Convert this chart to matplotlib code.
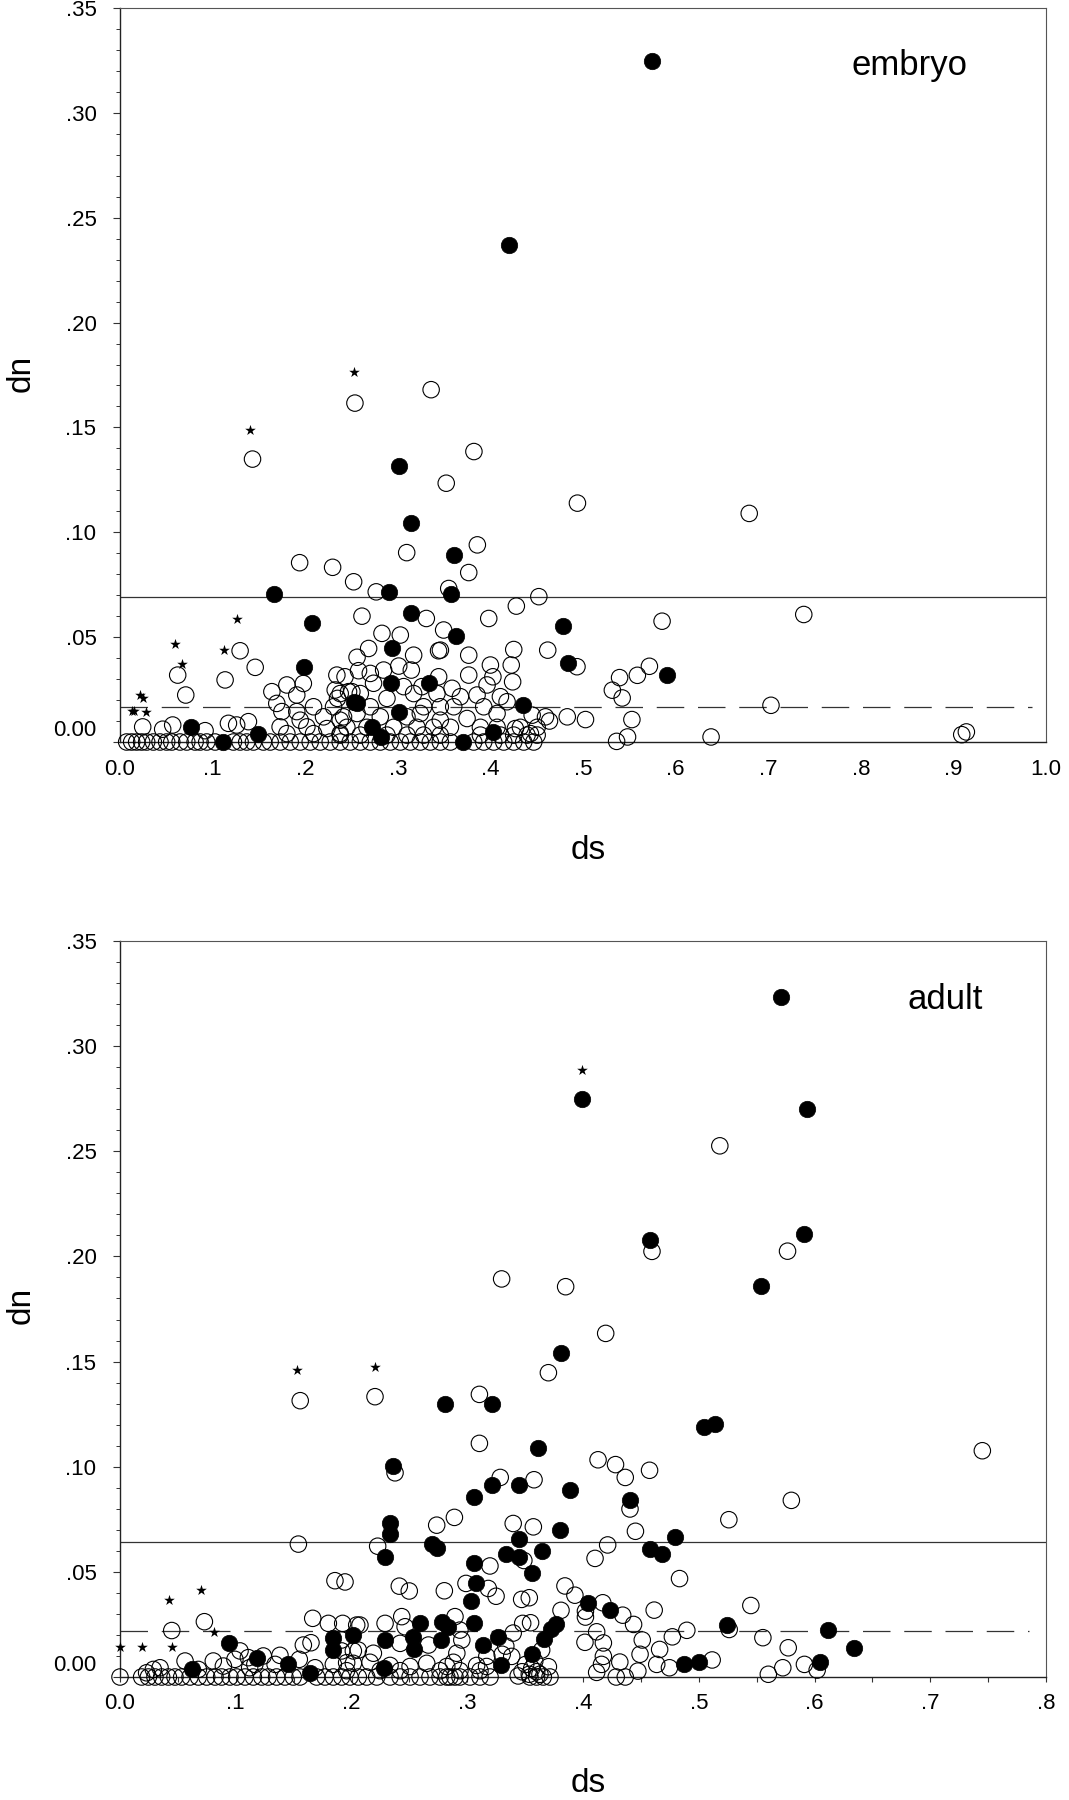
import matplotlib
matplotlib.use('Agg')
import matplotlib.pyplot as plt
from matplotlib.ticker import MultipleLocator, FixedLocator

plt.rcParams['font.family'] = ['Liberation Sans', 'DejaVu Sans']

# ---- embryo panel ----
emb_open_ds = [
    0.2537, 0.3360, 0.1431, 0.3822, 0.3523, 0.3096, 0.3859, 0.494, 0.6795, 0.5854, 0.7384,
    0.194, 0.2296, 0.2523, 0.1297, 0.146, 0.1135, 0.0623, 0.0710, 0.0245, 0.0461, 0.0569,
    0.0919, 0.1171, 0.126, 0.1387, 0.164, 0.1802, 0.1909, 0.198, 0.2342, 0.2324, 0.2468,
    0.1693, 0.1748, 0.1909, 0.209, 0.2198, 0.2306, 0.2414, 0.1946, 0.1729, 0.2018, 0.2234,
    0.1802, 0.209, 0.2378, 0.2349,
    0.2767, 0.355, 0.3766, 0.4523, 0.428, 0.2613, 0.3308, 0.3982, 0.3495, 0.3027, 0.2829,
    0.2685, 0.256, 0.344, 0.346, 0.3171, 0.3766, 0.4252, 0.4619, 0.2847, 0.3146, 0.301,
    0.2576, 0.2703, 0.3766, 0.40, 0.4225, 0.4027, 0.424, 0.3441, 0.243, 0.4935, 0.2738,
    0.3063, 0.3586, 0.3261, 0.3964, 0.3856, 0.4108, 0.3676, 0.418, 0.2883, 0.2504, 0.4451,
    0.4595, 0.483, 0.5027, 0.3748, 0.3459, 0.3243, 0.4072, 0.427, 0.4432, 0.256, 0.2811,
    0.3099, 0.2378,
    0.5717, 0.5587, 0.5395, 0.5317, 0.5423, 0.4638, 0.5528, 0.703, 0.6383, 0.5363, 0.5481,
    0.909, 0.914,
    0.245, 0.2667, 0.2955, 0.3207, 0.3387, 0.3568, 0.3892, 0.4072, 0.4324, 0.4505,
    0.2378, 0.2595, 0.2883, 0.3099, 0.3279, 0.3459, 0.3892, 0.4108, 0.4252, 0.4396, 0.4505,
    0.2703, 0.3279, 0.3459, 0.3604, 0.3928, 0.2378, 0.2595, 0.3171, 0.3423,
    0.0072, 0.0126, 0.018, 0.0234, 0.0288, 0.036, 0.0432, 0.0504, 0.0559, 0.0649, 0.0721,
    0.0811, 0.0865, 0.0937, 0.1027, 0.1225, 0.1297, 0.1369, 0.1441, 0.1549, 0.1622, 0.173,
    0.1838, 0.1946, 0.2054, 0.2162, 0.227, 0.2378, 0.2486, 0.2595, 0.2703, 0.2811, 0.2919,
    0.3027, 0.3135, 0.3243, 0.3351, 0.3459, 0.3568, 0.3820, 0.3928, 0.4036, 0.4144, 0.4252,
    0.4360, 0.4468,
]
emb_open_dn = [
    0.1616, 0.1680, 0.1349, 0.1385, 0.1234, 0.0903, 0.0940, 0.1139, 0.109, 0.0576, 0.0608,
    0.0855, 0.0833, 0.0764, 0.0435, 0.0356, 0.0296, 0.0319, 0.0224, 0.0072, 0.0061, 0.0081,
    0.0054, 0.0089, 0.0081, 0.0097, 0.024, 0.0272, 0.0224, 0.0279, 0.0319, 0.0248, 0.024,
    0.0184, 0.0145, 0.0145, 0.0168, 0.012, 0.0168, 0.012, 0.0104, 0.0072, 0.0072, 0.0064,
    0.004, 0.004, 0.004, 0.0208,
    0.0716, 0.0732, 0.0808, 0.0693, 0.0648, 0.06, 0.0589, 0.0589, 0.0534, 0.051, 0.0518,
    0.0446, 0.0404, 0.0435, 0.0438, 0.0414, 0.0414, 0.0441, 0.0438, 0.0343, 0.0343, 0.0362,
    0.034, 0.0327, 0.0319, 0.0367, 0.0367, 0.0311, 0.0287, 0.0311, 0.0311, 0.0359, 0.028,
    0.0264, 0.0256, 0.0264, 0.0272, 0.0224, 0.0216, 0.0216, 0.0192, 0.0208, 0.024, 0.0128,
    0.012, 0.012, 0.0107, 0.0112, 0.0104, 0.0136, 0.0136, 0.0064, 0.004, 0.0136, 0.012,
    0.012, 0.0104,
    0.0361, 0.0318, 0.0307, 0.0247, 0.021, 0.010, 0.0107, 0.0175, 0.0024, 0.0003, 0.0024,
    0.0035, 0.0048,
    0.007, 0.007, 0.007, 0.007, 0.007, 0.007, 0.007, 0.007, 0.007, 0.007,
    0.0033, 0.0033, 0.0033, 0.0033, 0.0033, 0.0033, 0.0033, 0.0033, 0.0033, 0.0033, 0.0033,
    0.0168, 0.0168, 0.0168, 0.0168, 0.0168, 0.0231, 0.0231, 0.0231, 0.0231,
    0.0, 0.0, 0.0, 0.0, 0.0, 0.0, 0.0, 0.0, 0.0, 0.0, 0.0,
    0.0, 0.0, 0.0, 0.0, 0.0, 0.0, 0.0, 0.0, 0.0, 0.0, 0.0,
    0.0, 0.0, 0.0, 0.0, 0.0, 0.0, 0.0, 0.0, 0.0, 0.0, 0.0,
    0.0, 0.0, 0.0, 0.0, 0.0, 0.0, 0.0, 0.0, 0.0, 0.0, 0.0,
    0.0, 0.0,
]
emb_fill_ds = [0.575, 0.4205, 0.301, 0.3144, 0.3606, 0.1668, 0.2908, 0.3578, 0.207, 0.3146,
               0.3632, 0.2937, 0.1989, 0.4782, 0.4836, 0.2926, 0.3333, 0.2523, 0.256, 0.301,
               0.272, 0.2822, 0.3705, 0.403, 0.4353, 0.0764, 0.111, 0.1495, 0.5905]
emb_fill_dn = [0.3247, 0.237, 0.1317, 0.1043, 0.0892, 0.0704, 0.0716, 0.0704, 0.0566, 0.0613,
               0.0507, 0.045, 0.0356, 0.0554, 0.0378, 0.0283, 0.0283, 0.0192, 0.0188, 0.0145,
               0.0072, 0.0024, 0.0, 0.0048, 0.0176, 0.0072, 0.0, 0.0037, 0.0318]
emb_star_ds = [0.0216, 0.0252, 0.0126, 0.0155, 0.0278, 0.0595, 0.0674, 0.1128, 0.1265, 0.140, 0.2530]
emb_star_dn = [0.0224, 0.0208, 0.0148, 0.0148, 0.0145, 0.0467, 0.037, 0.0441, 0.0585, 0.149, 0.1766]
emb_solid, emb_dash = 0.069, 0.0167

# ---- adult panel ----
adu_open_ds = [
    0.3297, 0.385, 0.4196, 0.3701, 0.2203, 0.1557, 0.3105, 0.3105, 0.2376, 0.5182, 0.4596,
    0.5767, 0.745, 0.58, 0.526, 0.3285, 0.3577,
    0.0447, 0.0729, 0.1541, 0.1857, 0.0562, 0.1665, 0.18, 0.1924, 0.2045, 0.1584, 0.165,
    0.1549, 0.1382, 0.0993, 0.1037, 0.1109, 0.1238, 0.1915, 0.2016, 0.1958, 0.1843, 0.1685,
    0.134, 0.0806, 0.0893, 0.0288, 0.0346, 0.0230, 0.0677, 0.1165, 0.112,
    0.2736, 0.2889, 0.3397, 0.3571, 0.2226, 0.3196, 0.2413, 0.2499, 0.2802, 0.2989, 0.3182,
    0.3249, 0.347, 0.3536, 0.3844, 0.393, 0.381, 0.4104, 0.4213, 0.3479, 0.3547, 0.3397,
    0.4017, 0.4118, 0.4176, 0.4176, 0.416, 0.4118, 0.2073, 0.229, 0.2434, 0.2463, 0.2894,
    0.2937, 0.1915, 0.2059, 0.2189, 0.242, 0.2665, 0.2953, 0.291, 0.3169, 0.3384, 0.3643,
    0.3701, 0.3557, 0.3628, 0.1944,
    0.2016, 0.2160, 0.2333, 0.2506, 0.2650, 0.2823, 0.2880, 0.3081, 0.3167,
    0.1958, 0.2247, 0.2420, 0.2765, 0.2937, 0.3110,
    0.413, 0.4281, 0.4365, 0.4575, 0.4406, 0.4453, 0.3489, 0.4834, 0.4021, 0.4021, 0.4171,
    0.4343, 0.4615, 0.545, 0.4437, 0.4897, 0.5263, 0.4772, 0.4512, 0.5554, 0.5773, 0.4662,
    0.4493, 0.4318, 0.4637, 0.4747, 0.5116, 0.5726, 0.5913, 0.6023, 0.5601, 0.4474, 0.3333,
    0.3302, 0.3505, 0.3583, 0.36, 0.3473, 0.3536, 0.344,
    0.0, 0.0187, 0.0245, 0.0302, 0.036, 0.0418, 0.0475, 0.0533, 0.0605, 0.0677, 0.0749,
    0.0821, 0.0878, 0.095, 0.1008, 0.108, 0.1152, 0.1224, 0.1281, 0.1353, 0.1425, 0.1497,
    0.1555, 0.1699, 0.1771, 0.1843, 0.1915, 0.1987, 0.2059, 0.2131, 0.2218, 0.2333, 0.242,
    0.2506, 0.2592, 0.2678, 0.2765, 0.2823, 0.2851, 0.2894, 0.2937, 0.3024, 0.311, 0.3197,
    0.3542, 0.3599, 0.3657, 0.3715, 0.4287, 0.4365,
]
adu_open_dn = [
    0.1893, 0.1856, 0.1634, 0.1447, 0.1333, 0.1314, 0.1344, 0.1111, 0.0971, 0.2526, 0.2024,
    0.2025, 0.1076, 0.084, 0.0748, 0.0949, 0.0938,
    0.0221, 0.0263, 0.0632, 0.0458, 0.0076, 0.0279, 0.0255, 0.0255, 0.0247, 0.0152, 0.0163,
    0.0084, 0.0103, 0.0084, 0.0124, 0.0092, 0.010, 0.0124, 0.0124, 0.0068, 0.006, 0.0044,
    0.006, 0.0076, 0.0052, 0.0036, 0.0044, 0.002, 0.0036, 0.006, 0.0044,
    0.0722, 0.0759, 0.073, 0.0714, 0.0622, 0.0528, 0.0432, 0.0409, 0.041, 0.0445, 0.0421,
    0.0384, 0.0369, 0.0377, 0.0433, 0.0389, 0.0317, 0.0564, 0.0628, 0.0255, 0.0258, 0.0209,
    0.0165, 0.0215, 0.0162, 0.0098, 0.006, 0.0022, 0.0247, 0.0255, 0.0287, 0.0239, 0.0287,
    0.0223, 0.0176, 0.0128, 0.0113, 0.016, 0.0152, 0.0176, 0.0113, 0.0098, 0.0098, 0.0128,
    0.0049, 0.0041, 0.0013, 0.0452,
    0.0065, 0.007, 0.0055, 0.005, 0.0065, 0.005, 0.007, 0.0055, 0.005,
    0.003, 0.003, 0.003, 0.003, 0.003, 0.003,
    0.1033, 0.101, 0.0949, 0.0983, 0.0799, 0.0693, 0.0554, 0.0468, 0.0313, 0.0285, 0.0353,
    0.0294, 0.0318, 0.034, 0.025, 0.0222, 0.0226, 0.0191, 0.0176, 0.0187, 0.0139, 0.0131,
    0.0108, 0.0071, 0.006, 0.0044, 0.0081, 0.0044, 0.006, 0.0033, 0.0013, 0.0028, 0.0147,
    0.0108, 0.006, 0.0075, 0.0025, 0.0025, 0.0013, 0.0005,
    0.0, 0.0, 0.0, 0.0, 0.0, 0.0, 0.0, 0.0, 0.0, 0.0, 0.0,
    0.0, 0.0, 0.0, 0.0, 0.0, 0.0, 0.0, 0.0, 0.0, 0.0, 0.0,
    0.0, 0.0, 0.0, 0.0, 0.0, 0.0, 0.0, 0.0, 0.0, 0.0, 0.0,
    0.0, 0.0, 0.0, 0.0, 0.0, 0.0, 0.0, 0.0, 0.0, 0.0, 0.0,
    0.0, 0.0, 0.0, 0.0, 0.0, 0.0,
]
adu_fill_ds = [
    0.5707, 0.3991, 0.5935, 0.4577, 0.5906, 0.5538, 0.381, 0.2808, 0.3211, 0.3614, 0.2356,
    0.5047, 0.5138, 0.389, 0.4406, 0.38, 0.4797, 0.365, 0.356, 0.4575, 0.4684, 0.4043,
    0.4231, 0.3771, 0.3724, 0.3661, 0.356, 0.5241, 0.6117, 0.6342, 0.6045, 0.4872, 0.5,
    0.3211, 0.3447, 0.3061, 0.2333, 0.2333, 0.229, 0.2693, 0.2736, 0.3447, 0.3332, 0.3447,
    0.3061, 0.3076, 0.3033, 0.3061, 0.2592, 0.2779, 0.2837, 0.201, 0.229, 0.2528, 0.2539,
    0.2773, 0.3263, 0.314, 0.3291, 0.2283,
    0.0945, 0.118, 0.1455, 0.1641, 0.0619, 0.1837, 0.1843,
]
adu_fill_dn = [
    0.3236, 0.275, 0.270, 0.2079, 0.2105, 0.186, 0.1539, 0.1298, 0.1298, 0.1087, 0.1003,
    0.1191, 0.1204, 0.0888, 0.0843, 0.070, 0.0665, 0.0599, 0.0493, 0.0609, 0.0587, 0.035,
    0.0318, 0.025, 0.0226, 0.0179, 0.011, 0.0248, 0.0222, 0.0139, 0.0071, 0.006, 0.0071,
    0.0913, 0.0913, 0.0854, 0.073, 0.0678, 0.057, 0.0634, 0.0612, 0.0654, 0.0585, 0.0572,
    0.0541, 0.0445, 0.0363, 0.0255, 0.0255, 0.0263, 0.0239, 0.0199, 0.0176, 0.0192, 0.0131,
    0.0176, 0.0192, 0.0152, 0.0057, 0.0041,
    0.0162, 0.0092, 0.0063, 0.0017, 0.0036, 0.0187, 0.0127,
]
adu_star_ds = [0.0, 0.0193, 0.0452, 0.0426, 0.070, 0.0812, 0.1533, 0.2203, 0.3991]
adu_star_dn = [0.0144, 0.0144, 0.0144, 0.0366, 0.0413, 0.0212, 0.146, 0.1476, 0.2886]
adu_solid, adu_dash = 0.0642, 0.0219

LINE = '#333333'


def draw_panel(ax, open_ds, open_dn, fill_ds, fill_dn, star_ds, star_dn,
               solid, dash, xmax, dash_end, name, name_xy, xlabels, xticks_on):
    ax.set_xlim(0, xmax)
    ax.set_ylim(0, 0.35)
    ax.axhline(solid, color=LINE, lw=0.9, zorder=1)
    ax.plot([0, dash_end], [dash, dash], color=LINE, lw=0.9, dashes=(22, 11), zorder=1)
    ax.scatter(open_ds, open_dn, s=140, facecolors='none', edgecolors='black',
               linewidths=0.8, clip_on=False, zorder=3)
    ax.scatter(fill_ds, fill_dn, s=140, c='black', edgecolors='black',
               linewidths=0.5, clip_on=False, zorder=4)
    ax.scatter(star_ds, star_dn, marker='*', s=65, c='black', linewidths=0,
               clip_on=False, zorder=5)

    for side in ['left', 'bottom']:
        ax.spines[side].set_linewidth(1.0)
        ax.spines[side].set_color('#222222')
    for side in ['top', 'right']:
        ax.spines[side].set_linewidth(0.8)
        ax.spines[side].set_color('#555555')

    yt = [0.0, 0.05, 0.10, 0.15, 0.20, 0.25, 0.30, 0.35]
    ax.yaxis.set_major_locator(FixedLocator(yt))
    ax.set_yticklabels([''] + [f'{v:.2f}'[1:] for v in yt[1:]])
    ax.yaxis.set_minor_locator(MultipleLocator(0.01))
    ax.tick_params(axis='y', which='major', direction='out', length=5, width=0.8,
                   pad=12, labelsize=16, color='#333333')
    ax.tick_params(axis='y', which='minor', direction='out', length=3, width=0.7,
                   color='#333333')
    ax.annotate('0.00', xy=(0, 0), xycoords=('axes fraction', 'data'),
                xytext=(-17, 8.5), textcoords='offset points',
                ha='right', va='center', fontsize=16)

    xt = [i / 10 for i in range(len(xlabels))]
    ax.xaxis.set_major_locator(FixedLocator(xt))
    ax.set_xticklabels(xlabels)
    if xticks_on:
        ax.xaxis.set_minor_locator(MultipleLocator(0.05))
        ax.tick_params(axis='x', which='both', direction='out', length=3.6,
                       width=0.8, pad=8, labelsize=16, color='#333333')
    else:
        ax.tick_params(axis='x', which='major', length=0, pad=12, labelsize=16)

    ax.text(name_xy[0], name_xy[1], name, transform=ax.transAxes,
            ha='center', va='center', fontsize=25)


fig = plt.figure(figsize=(10.69, 18), dpi=100)
W, H = 1069, 1800
left, width = 120 / W, 926 / W
ax1 = fig.add_axes([left, 1 - 742 / H, width, 734 / H])
ax2 = fig.add_axes([left, 1 - 1677 / H, width, 736 / H])

draw_panel(ax1, emb_open_ds, emb_open_dn, emb_fill_ds, emb_fill_dn,
           emb_star_ds, emb_star_dn, emb_solid, emb_dash, 1.0, 0.985,
           'embryo', (0.853, 0.922),
           ['0.0', '.1', '.2', '.3', '.4', '.5', '.6', '.7', '.8', '.9', '1.0'], False)
draw_panel(ax2, adu_open_ds, adu_open_dn, adu_fill_ds, adu_fill_dn,
           adu_star_ds, adu_star_dn, adu_solid, adu_dash, 0.8, 0.785,
           'adult', (0.891, 0.921),
           ['0.0', '.1', '.2', '.3', '.4', '.5', '.6', '.7', '.8'], True)

fig.text(21 / W, 1 - 373 / H, 'dn', rotation=90, ha='center', va='center', fontsize=24)
fig.text(21 / W, 1 - 1305 / H, 'dn', rotation=90, ha='center', va='center', fontsize=24)
fig.text(588 / W, 1 - 851 / H, 'ds', ha='center', va='center', fontsize=24)
fig.text(588 / W, 1 - 1783 / H, 'ds', ha='center', va='center', fontsize=24)

fig.savefig('out.png', dpi=100)
plt.close(fig)
